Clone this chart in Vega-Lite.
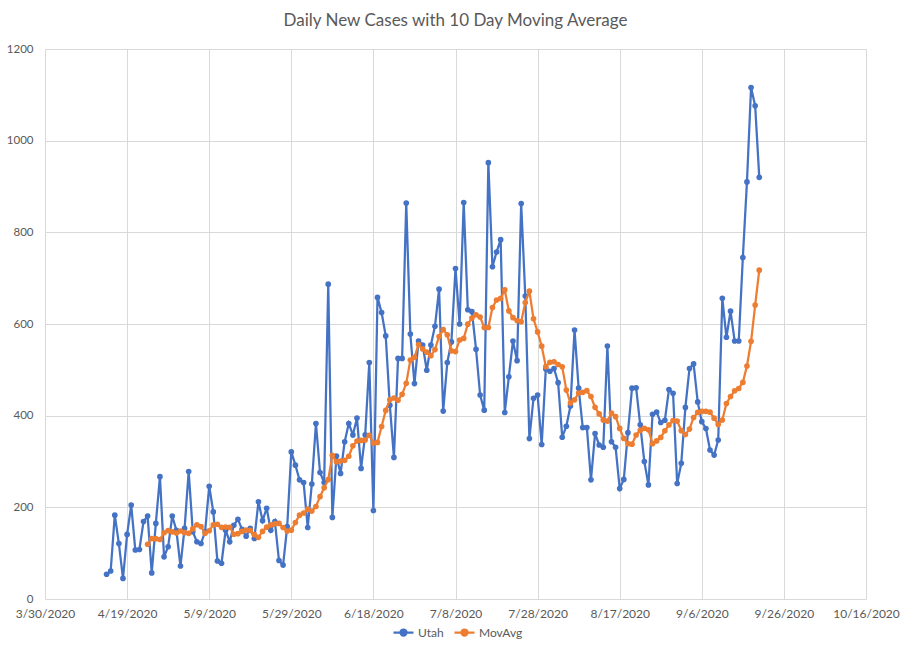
{
  "$schema": "https://vega.github.io/schema/vega-lite/v6.json",
  "width": 821,
  "height": 550,
  "autosize": {"type": "none"},
  "padding": {"left": 45, "top": 49, "right": 44, "bottom": 62},
  "background": "white",
  "title": {"text": "Daily New Cases with 10 Day Moving Average", "fontSize": 17, "font": "Lato", "fontWeight": "normal", "color": "#595959", "anchor": "middle", "offset": 13},
  "config": {"view": {"stroke": null}, "font": "Lato"},
  "datasets": {
    "utah": [
      {"date":"2020-04-14","value":54},{"date":"2020-04-15","value":61},{"date":"2020-04-16","value":183},{"date":"2020-04-17","value":121},{"date":"2020-04-18","value":45},{"date":"2020-04-19","value":141},{"date":"2020-04-20","value":205},{"date":"2020-04-21","value":107},{"date":"2020-04-22","value":108},{"date":"2020-04-23","value":169},{"date":"2020-04-24","value":181},{"date":"2020-04-25","value":57},{"date":"2020-04-26","value":165},{"date":"2020-04-27","value":267},{"date":"2020-04-28","value":92},{"date":"2020-04-29","value":114},{"date":"2020-04-30","value":181},
      {"date":"2020-05-01","value":150},{"date":"2020-05-02","value":72},{"date":"2020-05-03","value":154},{"date":"2020-05-04","value":278},{"date":"2020-05-05","value":147},{"date":"2020-05-06","value":125},{"date":"2020-05-07","value":121},{"date":"2020-05-08","value":147},{"date":"2020-05-09","value":246},{"date":"2020-05-10","value":190},{"date":"2020-05-11","value":83},{"date":"2020-05-12","value":78},{"date":"2020-05-13","value":150},{"date":"2020-05-14","value":125},{"date":"2020-05-15","value":161},{"date":"2020-05-16","value":174},{"date":"2020-05-17","value":152},{"date":"2020-05-18","value":137},{"date":"2020-05-19","value":154},{"date":"2020-05-20","value":132},{"date":"2020-05-21","value":212},{"date":"2020-05-22","value":171},{"date":"2020-05-23","value":198},{"date":"2020-05-24","value":150},{"date":"2020-05-25","value":169},{"date":"2020-05-26","value":84},{"date":"2020-05-27","value":74},{"date":"2020-05-28","value":158},{"date":"2020-05-29","value":321},{"date":"2020-05-30","value":292},{"date":"2020-05-31","value":260},
      {"date":"2020-06-01","value":254},{"date":"2020-06-02","value":156},{"date":"2020-06-03","value":251},{"date":"2020-06-04","value":383},{"date":"2020-06-05","value":276},{"date":"2020-06-06","value":254},{"date":"2020-06-07","value":687},{"date":"2020-06-08","value":178},{"date":"2020-06-09","value":312},{"date":"2020-06-10","value":274},{"date":"2020-06-11","value":343},{"date":"2020-06-12","value":383},{"date":"2020-06-13","value":358},{"date":"2020-06-14","value":395},{"date":"2020-06-15","value":285},{"date":"2020-06-16","value":358},{"date":"2020-06-17","value":516},{"date":"2020-06-18","value":193},{"date":"2020-06-19","value":658},{"date":"2020-06-20","value":625},{"date":"2020-06-21","value":574},{"date":"2020-06-22","value":423},{"date":"2020-06-23","value":309},{"date":"2020-06-24","value":525},{"date":"2020-06-25","value":525},{"date":"2020-06-26","value":864},{"date":"2020-06-27","value":578},{"date":"2020-06-28","value":470},{"date":"2020-06-29","value":563},{"date":"2020-06-30","value":554},
      {"date":"2020-07-01","value":499},{"date":"2020-07-02","value":554},{"date":"2020-07-03","value":595},{"date":"2020-07-04","value":676},{"date":"2020-07-05","value":410},{"date":"2020-07-06","value":516},{"date":"2020-07-07","value":561},{"date":"2020-07-08","value":721},{"date":"2020-07-09","value":600},{"date":"2020-07-10","value":865},{"date":"2020-07-11","value":631},{"date":"2020-07-12","value":627},{"date":"2020-07-13","value":545},{"date":"2020-07-14","value":445},{"date":"2020-07-15","value":412},{"date":"2020-07-16","value":952},{"date":"2020-07-17","value":725},{"date":"2020-07-18","value":757},{"date":"2020-07-19","value":784},{"date":"2020-07-20","value":407},{"date":"2020-07-21","value":485},{"date":"2020-07-22","value":563},{"date":"2020-07-23","value":520},{"date":"2020-07-24","value":863},{"date":"2020-07-25","value":661},{"date":"2020-07-26","value":350},{"date":"2020-07-27","value":438},{"date":"2020-07-28","value":445},{"date":"2020-07-29","value":337},{"date":"2020-07-30","value":502},{"date":"2020-07-31","value":497},
      {"date":"2020-08-01","value":503},{"date":"2020-08-02","value":472},{"date":"2020-08-03","value":353},{"date":"2020-08-04","value":377},{"date":"2020-08-05","value":421},{"date":"2020-08-06","value":587},{"date":"2020-08-07","value":460},{"date":"2020-08-08","value":374},{"date":"2020-08-09","value":374},{"date":"2020-08-10","value":260},{"date":"2020-08-11","value":361},{"date":"2020-08-12","value":336},{"date":"2020-08-13","value":331},{"date":"2020-08-14","value":552},{"date":"2020-08-15","value":343},{"date":"2020-08-16","value":331},{"date":"2020-08-17","value":241},{"date":"2020-08-18","value":261},{"date":"2020-08-19","value":363},{"date":"2020-08-20","value":460},{"date":"2020-08-21","value":461},{"date":"2020-08-22","value":380},{"date":"2020-08-23","value":300},{"date":"2020-08-24","value":249},{"date":"2020-08-25","value":403},{"date":"2020-08-26","value":408},{"date":"2020-08-27","value":385},{"date":"2020-08-28","value":390},{"date":"2020-08-29","value":457},{"date":"2020-08-30","value":449},{"date":"2020-08-31","value":252},
      {"date":"2020-09-01","value":296},{"date":"2020-09-02","value":418},{"date":"2020-09-03","value":503},{"date":"2020-09-04","value":513},{"date":"2020-09-05","value":430},{"date":"2020-09-06","value":387},{"date":"2020-09-07","value":372},{"date":"2020-09-08","value":325},{"date":"2020-09-09","value":314},{"date":"2020-09-10","value":347},{"date":"2020-09-11","value":656},{"date":"2020-09-12","value":571},{"date":"2020-09-13","value":628},{"date":"2020-09-14","value":563},{"date":"2020-09-15","value":563},{"date":"2020-09-16","value":745},{"date":"2020-09-17","value":910},{"date":"2020-09-18","value":1116},{"date":"2020-09-19","value":1076},{"date":"2020-09-20","value":920}
    ],
    "movavg": [
      {"date":"2020-04-24","value":119.4},{"date":"2020-04-25","value":132.1},{"date":"2020-04-26","value":131.7},{"date":"2020-04-27","value":129.9},{"date":"2020-04-28","value":144.5},{"date":"2020-04-29","value":149.2},{"date":"2020-04-30","value":146.5},
      {"date":"2020-05-01","value":144.1},{"date":"2020-05-02","value":148.4},{"date":"2020-05-03","value":144.8},{"date":"2020-05-04","value":143.3},{"date":"2020-05-05","value":153},{"date":"2020-05-06","value":162},{"date":"2020-05-07","value":158},{"date":"2020-05-08","value":143.4},{"date":"2020-05-09","value":148.9},{"date":"2020-05-10","value":162.1},{"date":"2020-05-11","value":163},{"date":"2020-05-12","value":156.3},{"date":"2020-05-13","value":156.9},{"date":"2020-05-14","value":156.5},{"date":"2020-05-15","value":141.2},{"date":"2020-05-16","value":142.6},{"date":"2020-05-17","value":147.5},{"date":"2020-05-18","value":150.6},{"date":"2020-05-19","value":149.6},{"date":"2020-05-20","value":140.4},{"date":"2020-05-21","value":134.6},{"date":"2020-05-22","value":147.5},{"date":"2020-05-23","value":156.8},{"date":"2020-05-24","value":161.6},{"date":"2020-05-25","value":164.1},{"date":"2020-05-26","value":164.9},{"date":"2020-05-27","value":155.9},{"date":"2020-05-28","value":148.1},{"date":"2020-05-29","value":150.2},{"date":"2020-05-30","value":166.9},{"date":"2020-05-31","value":182.9},
      {"date":"2020-06-01","value":187.7},{"date":"2020-06-02","value":196},{"date":"2020-06-03","value":191.8},{"date":"2020-06-04","value":201.9},{"date":"2020-06-05","value":223.3},{"date":"2020-06-06","value":242.5},{"date":"2020-06-07","value":260.5},{"date":"2020-06-08","value":313.4},{"date":"2020-06-09","value":299.1},{"date":"2020-06-10","value":301.1},{"date":"2020-06-11","value":302.5},{"date":"2020-06-12","value":311.4},{"date":"2020-06-13","value":334.1},{"date":"2020-06-14","value":344.8},{"date":"2020-06-15","value":346},{"date":"2020-06-16","value":346.9},{"date":"2020-06-17","value":357.3},{"date":"2020-06-18","value":340.2},{"date":"2020-06-19","value":341.7},{"date":"2020-06-20","value":376.3},{"date":"2020-06-21","value":411.4},{"date":"2020-06-22","value":434.5},{"date":"2020-06-23","value":438.5},{"date":"2020-06-24","value":433.6},{"date":"2020-06-25","value":446.6},{"date":"2020-06-26","value":470.6},{"date":"2020-06-27","value":521.2},{"date":"2020-06-28","value":527.4},{"date":"2020-06-29","value":555.1},{"date":"2020-06-30","value":545.6},
      {"date":"2020-07-01","value":538.5},{"date":"2020-07-02","value":531},{"date":"2020-07-03","value":544.1},{"date":"2020-07-04","value":572.7},{"date":"2020-07-05","value":587.8},{"date":"2020-07-06","value":576.3},{"date":"2020-07-07","value":541.5},{"date":"2020-07-08","value":539.8},{"date":"2020-07-09","value":564.9},{"date":"2020-07-10","value":568.6},{"date":"2020-07-11","value":599.7},{"date":"2020-07-12","value":612.9},{"date":"2020-07-13","value":620.2},{"date":"2020-07-14","value":615.2},{"date":"2020-07-15","value":592.1},{"date":"2020-07-16","value":592.3},{"date":"2020-07-17","value":635.9},{"date":"2020-07-18","value":652.3},{"date":"2020-07-19","value":655.9},{"date":"2020-07-20","value":674.3},{"date":"2020-07-21","value":628.5},{"date":"2020-07-22","value":613.9},{"date":"2020-07-23","value":607.5},{"date":"2020-07-24","value":605},{"date":"2020-07-25","value":646.8},{"date":"2020-07-26","value":671.7},{"date":"2020-07-27","value":611.5},{"date":"2020-07-28","value":582.8},{"date":"2020-07-29","value":551.6},{"date":"2020-07-30","value":506.9},{"date":"2020-07-31","value":516.4},
      {"date":"2020-08-01","value":517.6},{"date":"2020-08-02","value":511.6},{"date":"2020-08-03","value":506.8},{"date":"2020-08-04","value":455.8},{"date":"2020-08-05","value":427.4},{"date":"2020-08-06","value":434.5},{"date":"2020-08-07","value":449.4},{"date":"2020-08-08","value":450.9},{"date":"2020-08-09","value":454.6},{"date":"2020-08-10","value":441.8},{"date":"2020-08-11","value":418.1},{"date":"2020-08-12","value":403.9},{"date":"2020-08-13","value":390.3},{"date":"2020-08-14","value":388.1},{"date":"2020-08-15","value":405.6},{"date":"2020-08-16","value":397.8},{"date":"2020-08-17","value":372.2},{"date":"2020-08-18","value":350.3},{"date":"2020-08-19","value":339},{"date":"2020-08-20","value":337.9},{"date":"2020-08-21","value":357.9},{"date":"2020-08-22","value":367.9},{"date":"2020-08-23","value":372.3},{"date":"2020-08-24","value":369.2},{"date":"2020-08-25","value":338.9},{"date":"2020-08-26","value":344.9},{"date":"2020-08-27","value":352.6},{"date":"2020-08-28","value":367},{"date":"2020-08-29","value":379.9},{"date":"2020-08-30","value":389.3},{"date":"2020-08-31","value":388.2},
      {"date":"2020-09-01","value":367.3},{"date":"2020-09-02","value":358.9},{"date":"2020-09-03","value":370.7},{"date":"2020-09-04","value":396.1},{"date":"2020-09-05","value":407.1},{"date":"2020-09-06","value":409.3},{"date":"2020-09-07","value":409.5},{"date":"2020-09-08","value":407.7},{"date":"2020-09-09","value":394.5},{"date":"2020-09-10","value":381},{"date":"2020-09-11","value":390.5},{"date":"2020-09-12","value":426.5},{"date":"2020-09-13","value":441.8},{"date":"2020-09-14","value":454.3},{"date":"2020-09-15","value":459.3},{"date":"2020-09-16","value":472.6},{"date":"2020-09-17","value":508.4},{"date":"2020-09-18","value":562.2},{"date":"2020-09-19","value":641.3},{"date":"2020-09-20","value":717.5}
    ]
  },
  "encoding": {
    "x": {
      "field": "date", "type": "temporal",
      "scale": {"type": "utc", "domain": [{"year": 2020, "month": 3, "date": 30, "utc": true}, {"year": 2020, "month": 10, "date": 16, "utc": true}]},
      "axis": {
        "title": null,
        "values": [
          {"year": 2020, "month": 3, "date": 30, "utc": true},
          {"year": 2020, "month": 4, "date": 19, "utc": true},
          {"year": 2020, "month": 5, "date": 9, "utc": true},
          {"year": 2020, "month": 5, "date": 29, "utc": true},
          {"year": 2020, "month": 6, "date": 18, "utc": true},
          {"year": 2020, "month": 7, "date": 8, "utc": true},
          {"year": 2020, "month": 7, "date": 28, "utc": true},
          {"year": 2020, "month": 8, "date": 17, "utc": true},
          {"year": 2020, "month": 9, "date": 6, "utc": true},
          {"year": 2020, "month": 9, "date": 26, "utc": true},
          {"year": 2020, "month": 10, "date": 16, "utc": true}
        ],
        "labelExpr": "utcFormat(datum.value, '%-m/%-d/%Y')",
        "grid": true, "gridColor": "#D9D9D9", "gridWidth": 1,
        "domain": false, "ticks": false,
        "labelPadding": 9, "labelFontSize": 12, "labelColor": "#595959",
        "labelOverlap": false, "labelFlush": false
      }
    },
    "y": {
      "field": "value", "type": "quantitative",
      "scale": {"domain": [0, 1200], "nice": false},
      "axis": {
        "title": null,
        "values": [0, 200, 400, 600, 800, 1000, 1200],
        "format": "d",
        "grid": true, "gridColor": "#D9D9D9", "gridWidth": 1,
        "domain": false, "ticks": false,
        "labelPadding": 12, "labelFontSize": 11.5, "labelColor": "#595959"
      }
    }
  },
  "layer": [
    {
      "data": {"name": "utah"},
      "mark": {"type": "line", "strokeWidth": 2.25, "point": {"filled": true, "size": 32}},
      "encoding": {
        "color": {
          "datum": "Utah",
          "scale": {"domain": ["Utah", "MovAvg"], "range": ["#4472C4", "#ED7D31"]},
          "legend": {
            "orient": "none", "legendX": 347, "legendY": 572, "direction": "horizontal",
            "title": null,
            "symbolType": "M-1,0H1M0.3,0A0.3,0.3,0,1,1,-0.3,0A0.3,0.3,0,1,1,0.3,0Z",
            "symbolSize": 400, "symbolStrokeWidth": 2.25,
            "labelFontSize": 12, "labelColor": "#595959", "labelOffset": 3,
            "columnPadding": 6,
            "encode": {"symbols": {"update": {"fill": {"scale": "color", "field": "value"}, "stroke": {"scale": "color", "field": "value"}}}}
          }
        }
      }
    },
    {
      "data": {"name": "movavg"},
      "mark": {"type": "line", "strokeWidth": 2.25, "point": {"filled": true, "size": 32}},
      "encoding": {"color": {"datum": "MovAvg"}}
    }
  ]
}
